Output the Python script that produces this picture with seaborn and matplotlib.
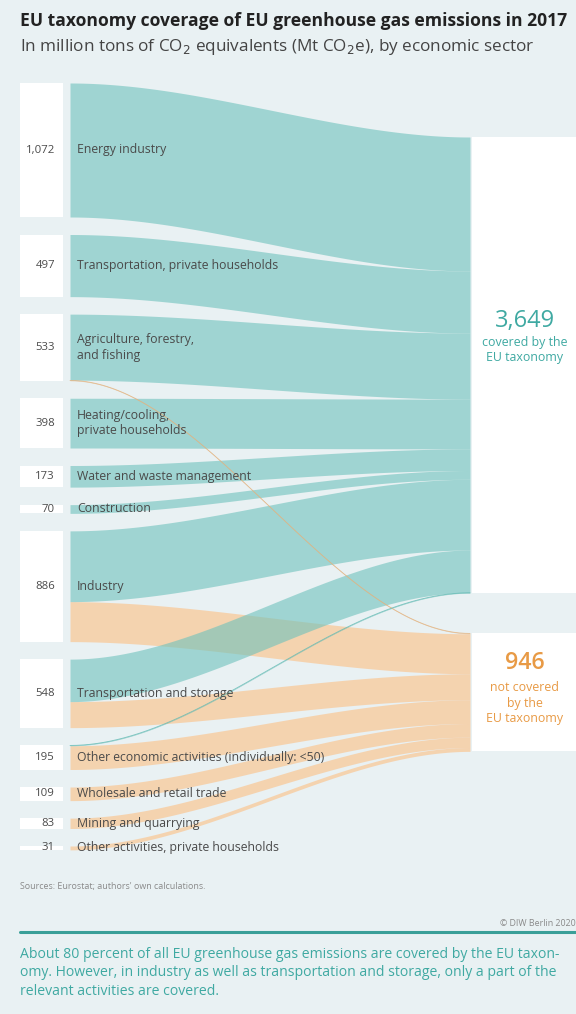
import matplotlib
matplotlib.use("Agg")
import matplotlib.pyplot as plt
import seaborn as sns
import numpy as np

# ---------------- data ----------------
sectors = [
    "Energy industry",
    "Transportation, private households",
    "Agriculture, forestry,\nand fishing",
    "Heating/cooling,\nprivate households",
    "Water and waste management",
    "Construction",
    "Industry",
    "Transportation and storage",
    "Other economic activities (individually: <50)",
    "Wholesale and retail trade",
    "Mining and quarrying",
    "Other activities, private households",
]
value_labels = ["1,072", "497", "533", "398", "173", "70", "886", "548",
                "195", "109", "83", "31"]
covered = [1072, 497, 528, 398, 173, 70, 566, 340, 5, 0, 0, 0]
not_covered = [0, 0, 5, 0, 0, 0, 320, 208, 190, 109, 83, 31]
target_totals = ["3,649", "946"]
target_labels = ["covered by the\nEU taxonomy", "not covered\nby the\nEU taxonomy"]

# ---------------- style ----------------
sns.set_theme(style="white")
FONT = "Open Sans"
plt.rcParams["font.family"] = [FONT, "DejaVu Sans"]

BG = "#e9f1f3"
TEAL = "#6ec2bc"
ORANGE = "#fdbf83"
TEAL_TXT = "#3fa9a2"
ORANGE_TXT = "#e89a45"
LABEL = "#4a4a4a"

W, H = 576, 1014
fig = plt.figure(figsize=(W / 100, H / 100), dpi=100, facecolor=BG)
ax = fig.add_axes([0, 0, 1, 1])
ax.set_facecolor(BG)

PX = 8.0            # Mt per pixel (value scale)
TOP = 83            # pixel row of first node
ax.set_xlim(0, W)
ax.set_ylim((H - TOP) * PX, -TOP * PX)
ax.axis("off")

GAP = 140           # Mt-equivalent gap between left nodes
R_TOP = 432         # top of right 'covered' node
R_GAP = 320         # gap between right nodes
XL0, XL1 = 20, 63   # left node boxes
XF0, XF1 = 70, 470  # flow start / end
XR0 = 472           # right node boxes

totals = [c + n for c, n in zip(covered, not_covered)]

# left node positions
left_top = []
y = 0.0
for t in totals:
    left_top.append(y)
    y += t + GAP

# right node positions
cov_total = sum(covered)
unc_total = sum(not_covered)
r_top = [R_TOP, R_TOP + cov_total + R_GAP]
r_size = [cov_total, unc_total]


def band(y0a, y0b, y1a, y1b, color, alpha=0.6, lw=0.0, z=2):
    xs = np.linspace(XF0, XF1, 300)
    t = (xs - XF0) / (XF1 - XF0)
    s = 3 * t ** 2 - 2 * t ** 3
    top = y0a + (y1a - y0a) * s
    bot = y0b + (y1b - y0b) * s
    ax.fill_between(xs, top, bot, color=color, alpha=alpha, lw=0, zorder=z)
    if lw:
        ax.plot(xs, (top + bot) / 2, color=color, lw=lw, alpha=0.8, zorder=z + 2)


# white node boxes
for i, t in enumerate(totals):
    ax.fill_between([XL0, XL1], left_top[i], left_top[i] + t, color="white", lw=0, zorder=1)
for k in range(2):
    ax.fill_between([XR0, W], r_top[k], r_top[k] + r_size[k], color="white", lw=0, zorder=1)

# flows: orange first, teal on top, thin ones last
cov_cursor = r_top[0]
unc_cursor = r_top[1]
cov_pos, unc_pos = [], []
for i in range(len(sectors)):
    cov_pos.append(cov_cursor)
    cov_cursor += covered[i]
    unc_pos.append(unc_cursor)
    unc_cursor += not_covered[i]

for i in range(len(sectors)):
    v = not_covered[i]
    if v >= 20:
        y0 = left_top[i] + covered[i]
        band(y0, y0 + v, unc_pos[i], unc_pos[i] + v, ORANGE, z=2)
for i in range(len(sectors)):
    v = covered[i]
    if v >= 20:
        y0 = left_top[i]
        band(y0, y0 + v, cov_pos[i], cov_pos[i] + v, TEAL, z=3)
for i in range(len(sectors)):
    if 0 < not_covered[i] < 20:
        y0 = left_top[i] + covered[i]
        band(y0, y0 + not_covered[i], unc_pos[i], unc_pos[i] + not_covered[i], "#e3b27e", lw=0.6, z=5)
    if 0 < covered[i] < 20:
        y0 = left_top[i]
        band(y0, y0 + covered[i], cov_pos[i], cov_pos[i] + covered[i], "#5db8b1", lw=0.6, z=5)

# labels
for i, name in enumerate(sectors):
    yc = left_top[i] + totals[i] / 2
    ax.text(55, yc, value_labels[i], ha="right", va="center", fontsize=8.2,
            color=LABEL, zorder=10)
    ax.text(77, yc, name, ha="left", va="center", fontsize=8.8,
            color=LABEL, zorder=10, linespacing=1.25)

# right labels
xc = (XR0 + W) / 2 + 1
ax.text(xc, (321 - TOP) * PX, target_totals[0], ha="center", va="center",
        fontsize=17, color=TEAL_TXT, zorder=10)
ax.text(xc, (350 - TOP) * PX, target_labels[0], ha="center", va="center",
        fontsize=8.9, color=TEAL_TXT, zorder=10, linespacing=1.25)
ax.text(xc, (663 - TOP) * PX, target_totals[1], ha="center", va="center",
        fontsize=16.7, color=ORANGE_TXT, zorder=10, fontweight="semibold")
ax.text(xc, (703 - TOP) * PX, target_labels[1], ha="center", va="center",
        fontsize=8.9, color=ORANGE_TXT, zorder=10, linespacing=1.25)

# titles and notes


def ftext(x, y, s, **kw):
    fig.text(x / W, 1 - y / H, s, **kw)


ftext(20, 21, "EU taxonomy coverage of EU greenhouse gas emissions in 2017",
      fontsize=12.6, fontweight="bold", color="#222222", va="center")
ftext(20, 47, "In million tons of CO$_2$ equivalents (Mt CO$_2$e), by economic sector",
      fontsize=12.3, color="#444444", va="center")
ftext(20, 887, "Sources: Eurostat; authors' own calculations.", fontsize=6.4,
      color="#8a8a8a", va="center")
ftext(576, 923, "© DIW Berlin 2020", fontsize=6.4, color="#8a8a8a",
      va="center", ha="right")
fig.add_artist(plt.Line2D([20 / W, 1], [1 - 932 / H, 1 - 932 / H],
                          color="#3a9f98", lw=2.2))
ftext(20, 973,
      "About 80 percent of all EU greenhouse gas emissions are covered by the EU taxon-\n"
      "omy. However, in industry as well as transportation and storage, only a part of the\n"
      "relevant activities are covered.",
      fontsize=10.1, color=TEAL_TXT, va="center", linespacing=1.3)

fig.savefig("out.png", dpi=100, facecolor=BG)
